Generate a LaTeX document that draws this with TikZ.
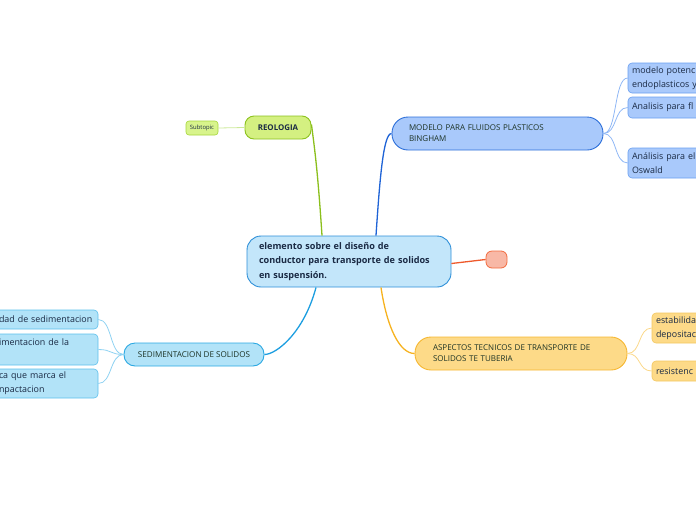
\documentclass[tikz,border=0pt]{standalone}
\usepackage{fontspec}
\setmainfont{Open Sans}
\usetikzlibrary{calc}
\definecolor{cenfill}{HTML}{C3E6FA}
\definecolor{cendraw}{HTML}{2E8FD8}
\definecolor{txtdark}{HTML}{1A2A44}
\definecolor{reofill}{HTML}{D4F081}
\definecolor{reodraw}{HTML}{8CC21E}
\definecolor{subfill}{HTML}{D8F48C}
\definecolor{subdraw}{HTML}{A6D63A}
\definecolor{reoline}{HTML}{8BBF1C}
\definecolor{subline}{HTML}{CDE99A}
\definecolor{modfill}{HTML}{A9C9FB}
\definecolor{moddraw}{HTML}{2D6FD9}
\definecolor{modline}{HTML}{1E63D6}
\definecolor{modcdraw}{HTML}{6A9FF0}
\definecolor{modcline}{HTML}{8FB7F5}
\definecolor{redfill}{HTML}{F8B8A6}
\definecolor{reddraw}{HTML}{F26B3E}
\definecolor{redline}{HTML}{EE5A2C}
\definecolor{aspfill}{HTML}{FDDA88}
\definecolor{aspdraw}{HTML}{F6B731}
\definecolor{aspline}{HTML}{F6B21F}
\definecolor{aspcdraw}{HTML}{F3C760}
\definecolor{aspcline}{HTML}{FBD88A}
\definecolor{sedfill}{HTML}{B2E3F8}
\definecolor{seddraw}{HTML}{2AA8E2}
\definecolor{sedline}{HTML}{1D9EE0}
\definecolor{sedcdraw}{HTML}{5CC0EC}
\definecolor{sedcline}{HTML}{8FD2F2}
\definecolor{txtgreen}{HTML}{1D3325}
\tikzset{
  box/.style={rectangle, inner xsep=0pt, inner ysep=0pt, line width=0.9pt, anchor=center, align=left, text=txtgreen},
  childbox/.style={box, line width=0.6pt, rounded corners=4pt, text=txtdark, font=\fontsize{8.9}{14}\selectfont},
  mainline/.style={line width=1.3pt},
  childline/.style={line width=0.8pt},
}
\begin{document}
\begin{tikzpicture}[x=1pt,y=-1pt]
\useasboundingbox (0,0) rectangle (696,520);
\clip (0,0) rectangle (696,520);
% central
\node[box, fill=cenfill, draw=cendraw, rounded corners=14pt, minimum width=204pt, minimum height=51pt, text width=180pt, text=txtdark, font=\bfseries\fontsize{9.1}{14.5}\selectfont] (c) at (349,261.5) {elemento sobre el diseño de\\conductor para transporte de solidos\\en suspensión.};
% reologia
\node[box, fill=reofill, draw=reodraw, rounded corners=9pt, minimum width=66pt, minimum height=23pt, align=center, text=txtdark, font=\bfseries\fontsize{7.9}{9}\selectfont] (reo) at (278,127.5) {REOLOGIA};
\node[box, fill=subfill, draw=subdraw, line width=0.6pt, rounded corners=3pt, minimum width=32pt, minimum height=14pt, align=center, text=txtdark, font=\fontsize{5.9}{6}\selectfont] (sub) at (202,128) {Subtopic};
% modelo
\node[box, fill=modfill, draw=moddraw, rounded corners=16pt, minimum width=211pt, minimum height=33pt, text width=177pt, font=\fontsize{8}{11}\selectfont] (mod) at (497.5,133.5) {MODELO PARA FLUIDOS PLASTICOS\\BINGHAM};
\node[childbox, fill=modfill, draw=modcdraw, minimum width=90pt, minimum height=30pt, text width=82pt] (m1) at (673,78) {modelo potenc\\endoplasticos y};
\node[childbox, fill=modfill, draw=modcdraw, minimum width=90pt, minimum height=21pt, text width=82pt] (m2) at (673,107.5) {Analisis para fl};
\node[childbox, fill=modfill, draw=modcdraw, minimum width=90pt, minimum height=30pt, text width=82pt] (m3) at (673,163) {Análisis para el\\Oswald};
% red
\node[box, fill=redfill, draw=reddraw, line width=0.8pt, rounded corners=6pt, minimum width=21pt, minimum height=17pt] (red) at (496.5,259.5) {};
% aspectos
\node[box, fill=aspfill, draw=aspdraw, rounded corners=16pt, minimum width=212pt, minimum height=33pt, text width=176pt, font=\fontsize{8}{11}\selectfont] (asp) at (521,353.5) {ASPECTOS TECNICOS DE TRANSPORTE DE\\SOLIDOS TE TUBERIA};
\node[childbox, fill=aspfill, draw=aspcdraw, minimum width=90pt, minimum height=30pt, text width=82pt] (a1) at (697,328) {estabilidad\\depositac};
\node[childbox, fill=aspfill, draw=aspcdraw, minimum width=90pt, minimum height=20pt, text width=82pt] (a2) at (697,371) {resistenc};
% sedimentacion
\node[box, fill=sedfill, draw=seddraw, rounded corners=11pt, minimum width=140pt, minimum height=23pt, align=center, font=\fontsize{8.1}{9}\selectfont] (sed) at (194,354.5) {SEDIMENTACION DE SOLIDOS};
\node[childbox, fill=sedfill, draw=sedcdraw, minimum width=104pt, minimum height=19pt, text width=94pt] (s1) at (46,319.5) {dad de sedimentacion};
\node[childbox, fill=sedfill, draw=sedcdraw, minimum width=104pt, minimum height=31pt, text width=94pt] (s2) at (46,349.5) {imentacion de la\\\mbox{}};
\node[childbox, fill=sedfill, draw=sedcdraw, minimum width=104pt, minimum height=29pt, text width=94pt] (s3) at (46,383.5) {ca que marca el\\npactacion};
% connectors
\draw[subline, childline] (sub.east) -- (reo.west);
\draw[reoline, mainline] ([xshift=-27pt]c.north) .. controls +(-4,-60) and +(4,30) .. ([yshift=3pt]reo.east);
\draw[modline, mainline] ([xshift=27pt]c.north) .. controls +(4,-60) and +(-8,0) .. (mod.west);
\draw[redline, mainline] ([yshift=-2pt]c.east) -- (red.west);
\draw[aspline, mainline] ([xshift=32pt]c.south) .. controls +(6,40) and +(-15,0) .. (asp.west);
\draw[sedline, mainline] ([xshift=-33pt]c.south) .. controls +(-12,45) and +(12,0) .. (sed.east);
\draw[modcline, childline] (mod.east) .. controls +(14,0) and +(-14,0) .. (m1.west);
\draw[modcline, childline] (mod.east) .. controls +(14,0) and +(-14,0) .. (m2.west);
\draw[modcline, childline] (mod.east) .. controls +(14,0) and +(-14,0) .. (m3.west);
\draw[aspcline, childline] (asp.east) .. controls +(14,0) and +(-14,0) .. (a1.west);
\draw[aspcline, childline] (asp.east) .. controls +(14,0) and +(-14,0) .. (a2.west);
\draw[sedcline, childline] (sed.west) .. controls +(-14,0) and +(14,0) .. (s1.east);
\draw[sedcline, childline] (sed.west) .. controls +(-14,0) and +(14,0) .. (s2.east);
\draw[sedcline, childline] (sed.west) .. controls +(-14,0) and +(14,0) .. (s3.east);
\end{tikzpicture}
\end{document}
